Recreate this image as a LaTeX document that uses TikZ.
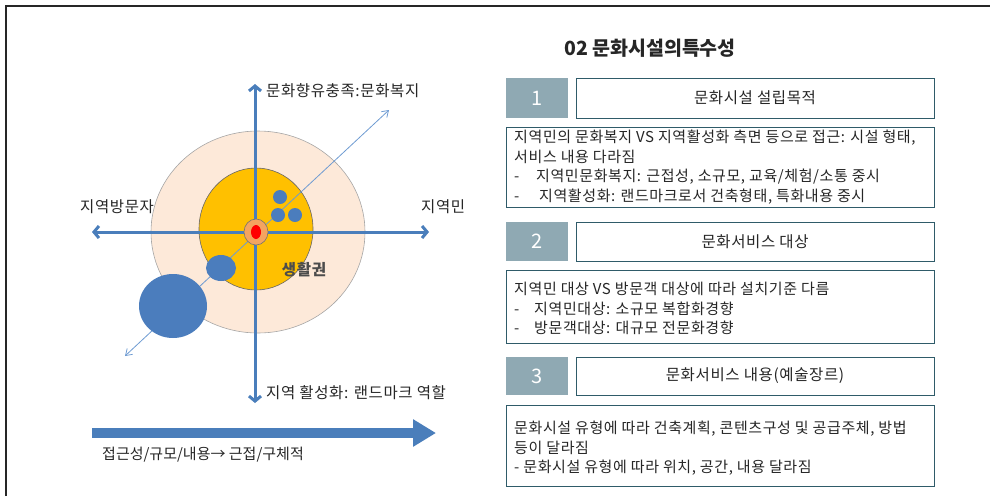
\documentclass[tikz,border=0pt]{standalone}
\usepackage{fontspec}
\newfontfamily\kr{Noto Sans CJK KR}
\newfontfamily\krw[LetterSpace=4]{Noto Sans CJK KR}
\usetikzlibrary{arrows.meta}
\definecolor{axisblue}{HTML}{4A7EBB}
\definecolor{diagblue}{HTML}{6E9BD2}
\definecolor{dotblue}{HTML}{4B7DBD}
\definecolor{peach}{HTML}{FDE9D9}
\definecolor{gold}{HTML}{FFC000}
\definecolor{ringor}{HTML}{F4A460}
\definecolor{numbox}{HTML}{8FA9B3}
\definecolor{teal}{HTML}{2F5B69}
\definecolor{txt}{HTML}{262626}
\tikzset{
  axis/.style={axisblue, line width=3pt, {Straight Barb[length=5pt,width=12pt]}-{Straight Barb[length=5pt,width=12pt]}},
  diag/.style={diagblue, line width=0.8pt, {Straight Barb[length=6pt,width=8pt]}-{Straight Barb[length=6pt,width=8pt]}},
  lbl/.style={font=\krw\fontsize{15.5}{18}\selectfont, text=txt, inner sep=0pt},
  numb/.style={fill=numbox, draw=none, text=white, font=\kr\fontsize{20}{23}\selectfont},
  titlebox/.style={draw=teal, line width=0.9pt, fill=white, text=txt, font=\krw\fontsize{15.5}{18}\selectfont},
  contentbox/.style={draw=teal, line width=0.9pt, fill=white},
  ctext/.style={font=\krw\fontsize{15}{19.5}\selectfont, text=txt, inner sep=0pt, align=left, anchor=north west},
  blob/.style={fill=dotblue, draw=none}
}
\newcommand{\dsh}[1]{\makebox[#1][l]{-}}
\begin{document}
\begin{tikzpicture}[x=1pt,y=-1pt]
\useasboundingbox (0,0) rectangle (990,496);
% frame
\draw[line width=1.4pt, black!85] (6,496) -- (6,6) -- (990,6);

% circles
\path[fill=peach, draw=black!35, line width=0.6pt] (258,232) ellipse [x radius=107, y radius=101];
\path[fill=gold, draw=black!60, line width=0.6pt] (256,229) ellipse [x radius=57, y radius=61];

% axes
\coordinate (vtop) at (255,84);
\coordinate (vbot) at (255,403);
\coordinate (hl) at (92,232);
\coordinate (hr) at (429,232);
\draw[axis] (vbot) -- (vtop);
\draw[axis] (hl) -- (hr);

% diagonal
\coordinate (dl) at (125,356);
\coordinate (dr) at (389,110);
\draw[diag] (dl) -- (dr);

% blue blobs
\path[blob] (280,197) circle (7);
\path[blob] (278,215) circle (7);
\path[blob] (295,215) circle (7);
\path[blob] (221,268) ellipse [x radius=15, y radius=13];
\path[blob] (173,306) ellipse [x radius=34, y radius=32];

% center
\path[fill=ringor, draw=black!55, line width=0.6pt] (256,232) ellipse [x radius=12, y radius=13];
\path[fill=red, draw=none] (256,232) ellipse [x radius=5, y radius=7];

% labels
\node[lbl, anchor=west] (ltop) at (266,91) {문화향유충족:문화복지};
\node[lbl, anchor=west] (lleft) at (80,207) {지역방문자};
\node[lbl, anchor=west] (lright) at (421,207) {지역민};
\node[lbl, anchor=west] (lbot) at (266,393) {지역 활성화: 랜드마크 역할};
\node[lbl, text=black!70] (lzone) at (304,270) {\bfseries 생활권};

% bottom arrow
\coordinate (ba1) at (92,433);
\coordinate (ba2) at (436,433);
\draw[axisblue, line width=10pt, -{Triangle[length=23pt,width=26pt]}] (ba1) -- (ba2);
\node[lbl, font=\kr\fontsize{15}{18}\selectfont, anchor=west] (lacc) at (102,455) {접근성/규모/내용→ 근접/구체적};

% title
\node[font=\kr\bfseries\fontsize{19.5}{22}\selectfont, text=txt, inner sep=0pt] (title) at (650,48) {02 문화시설의특수성};

% box 1
\path[numb] (506,78) rectangle (568,118);
\node[numb, fill=none] (n1) at (537,98) {1};
\draw[titlebox] (576,78) rectangle (934,118);
\node[titlebox, draw=none, fill=none] (t1) at (755,98) {문화시설 설립목적};
\draw[contentbox] (506,127) rectangle (934,207);
\node[ctext] (c1) at (514,130) {지역민의 문화복지 VS 지역활성화 측면 등으로 접근: 시설 형태,\\
서비스 내용 다라짐\\
\dsh{22pt}지역민문화복지: 근접성, 소규모, 교육/체험/소통 중시\\
\dsh{25pt}지역활성화: 랜드마크로서 건축형태, 특화내용 중시};

% box 2
\path[numb] (506,222) rectangle (568,261);
\node[numb, fill=none] (n2) at (537,241.5) {2};
\draw[titlebox] (576,222) rectangle (934,261);
\node[titlebox, draw=none, fill=none] (t2) at (755,241.5) {문화서비스 대상};
\draw[contentbox] (506,270) rectangle (934,343);
\node[ctext] (c2) at (514,282) {지역민 대상 VS 방문객 대상에 따라 설치기준 다름\\
\dsh{20pt}지역민대상: 소규모 복합화경향\\
\dsh{20pt}방문객대상: 대규모 전문화경향};

% box 3
\path[numb] (506,357) rectangle (568,395);
\node[numb, fill=none] (n3) at (537,376) {3};
\draw[titlebox] (576,357) rectangle (934,395);
\node[titlebox, draw=none, fill=none] (t3) at (755,376) {문화서비스 내용(예술장르)};
\draw[contentbox] (506,405) rectangle (934,486);
\node[ctext] (c3) at (514,421) {문화시설 유형에 따라 건축계획, 콘텐츠구성 및 공급주체, 방법\\
등이 달라짐\\
- 문화시설 유형에 따라 위치, 공간, 내용 달라짐};
\end{tikzpicture}
\end{document}
